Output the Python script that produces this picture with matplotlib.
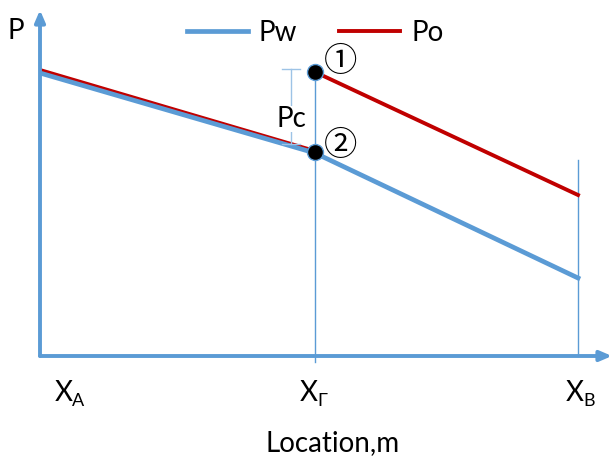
import matplotlib
matplotlib.use("Agg")
import matplotlib.pyplot as plt

plt.rcParams['font.family'] = ['Lato', 'DejaVu Sans']

# location (fraction of X_A -> X_B) and pressure (arbitrary units)
x_loc = [0.0, 0.511, 1.0]
pw = [2.83, 2.03, 0.78]
po_left = [2.86, 2.05]
po_right = [2.84, 1.61]
tick_pos = [0.028, 0.483, 0.978]
tick_main = ['X', 'X', 'X']
tick_sub = ['A', 'Γ', 'B']

blue = '#5B9BD5'
light_blue = '#9DC3E6'
red = '#C00000'

fig = plt.figure(figsize=(6.12, 4.67), dpi=100)
# axes origin at pixel (40, 356)
ax = fig.add_axes([40/612, 111/467, 572/612, 346/467])
ax.set_xlim(0, 572/538)
ax.set_ylim(0, 3.46)
ax.axis('off')

# axes with arrows
arrow = dict(arrowstyle='-|>,head_length=0.7,head_width=0.3', color=blue, lw=2.8,
             shrinkA=0, shrinkB=0)
ax.annotate('', xy=(1, 0), xytext=(0, 0), xycoords='axes fraction', arrowprops=arrow)
ax.annotate('', xy=(0, 1), xytext=(0, 0), xycoords='axes fraction', arrowprops=arrow)

# vertical guide lines
ax.plot([x_loc[1], x_loc[1]], [-0.06, po_right[0]], color=blue, lw=1, clip_on=False)
ax.plot([x_loc[2], x_loc[2]], [0, 1.96], color=blue, lw=1, clip_on=False)

# pressure lines
ax.plot(x_loc[:2], po_left, color=red, lw=2.8, label='Po')
ax.plot(x_loc, pw, color=blue, lw=3.4, label='Pw')
ax.plot(x_loc[1:], po_right, color=red, lw=2.8)

# Pc bracket
bx = (291 - 40) / 538
ax.plot([bx, bx], [2.12, 2.87], color=light_blue, lw=1)
ax.plot([bx - 0.016, bx + 0.016], [2.87, 2.87], color=light_blue, lw=1)
ax.plot([bx - 0.016, bx + 0.016], [2.12, 2.12], color=light_blue, lw=1)
ax.text(bx, 2.37, 'Pc', fontsize=20, ha='center', va='center',
        bbox=dict(facecolor='white', edgecolor='none', pad=0))

# points 1 and 2
ax.plot([x_loc[1], x_loc[1]], [po_right[0], pw[1] + 0.01], 'o', ms=11.5,
        mfc='black', mec=blue, mew=1, zorder=5)
ax.text(0.559, 2.94, '①', fontsize=24, ha='center', va='center',
        family=['Noto Sans CJK JP', 'DejaVu Sans'])
ax.text(0.559, 2.10, '②', fontsize=24, ha='center', va='center',
        family=['Noto Sans CJK JP', 'DejaVu Sans'])

for pos, main, sub in zip(tick_pos, tick_main, tick_sub):
    ax.text(pos, -0.37, main, fontsize=20, ha='left', va='center')
    ax.annotate(sub, xy=(pos, -0.37), xytext=(12.5, -6), textcoords='offset points',
                fontsize=13, ha='left', va='center', annotation_clip=False)

fig.text(16/612, 1 - 31/467, 'P', fontsize=20, ha='center', va='center')
fig.text(333/612, 1 - 443/467, 'Location,m', fontsize=20, ha='center', va='center')

h, l = ax.get_legend_handles_labels()
fig.legend([h[1], h[0]], ['Pw', 'Po'], loc='center', bbox_to_anchor=(315/612, 1 - 33/467),
           ncol=2, frameon=False, fontsize=20, handlelength=2.2, columnspacing=1.5,
           handletextpad=0.4)

fig.savefig('out.png', dpi=100)
